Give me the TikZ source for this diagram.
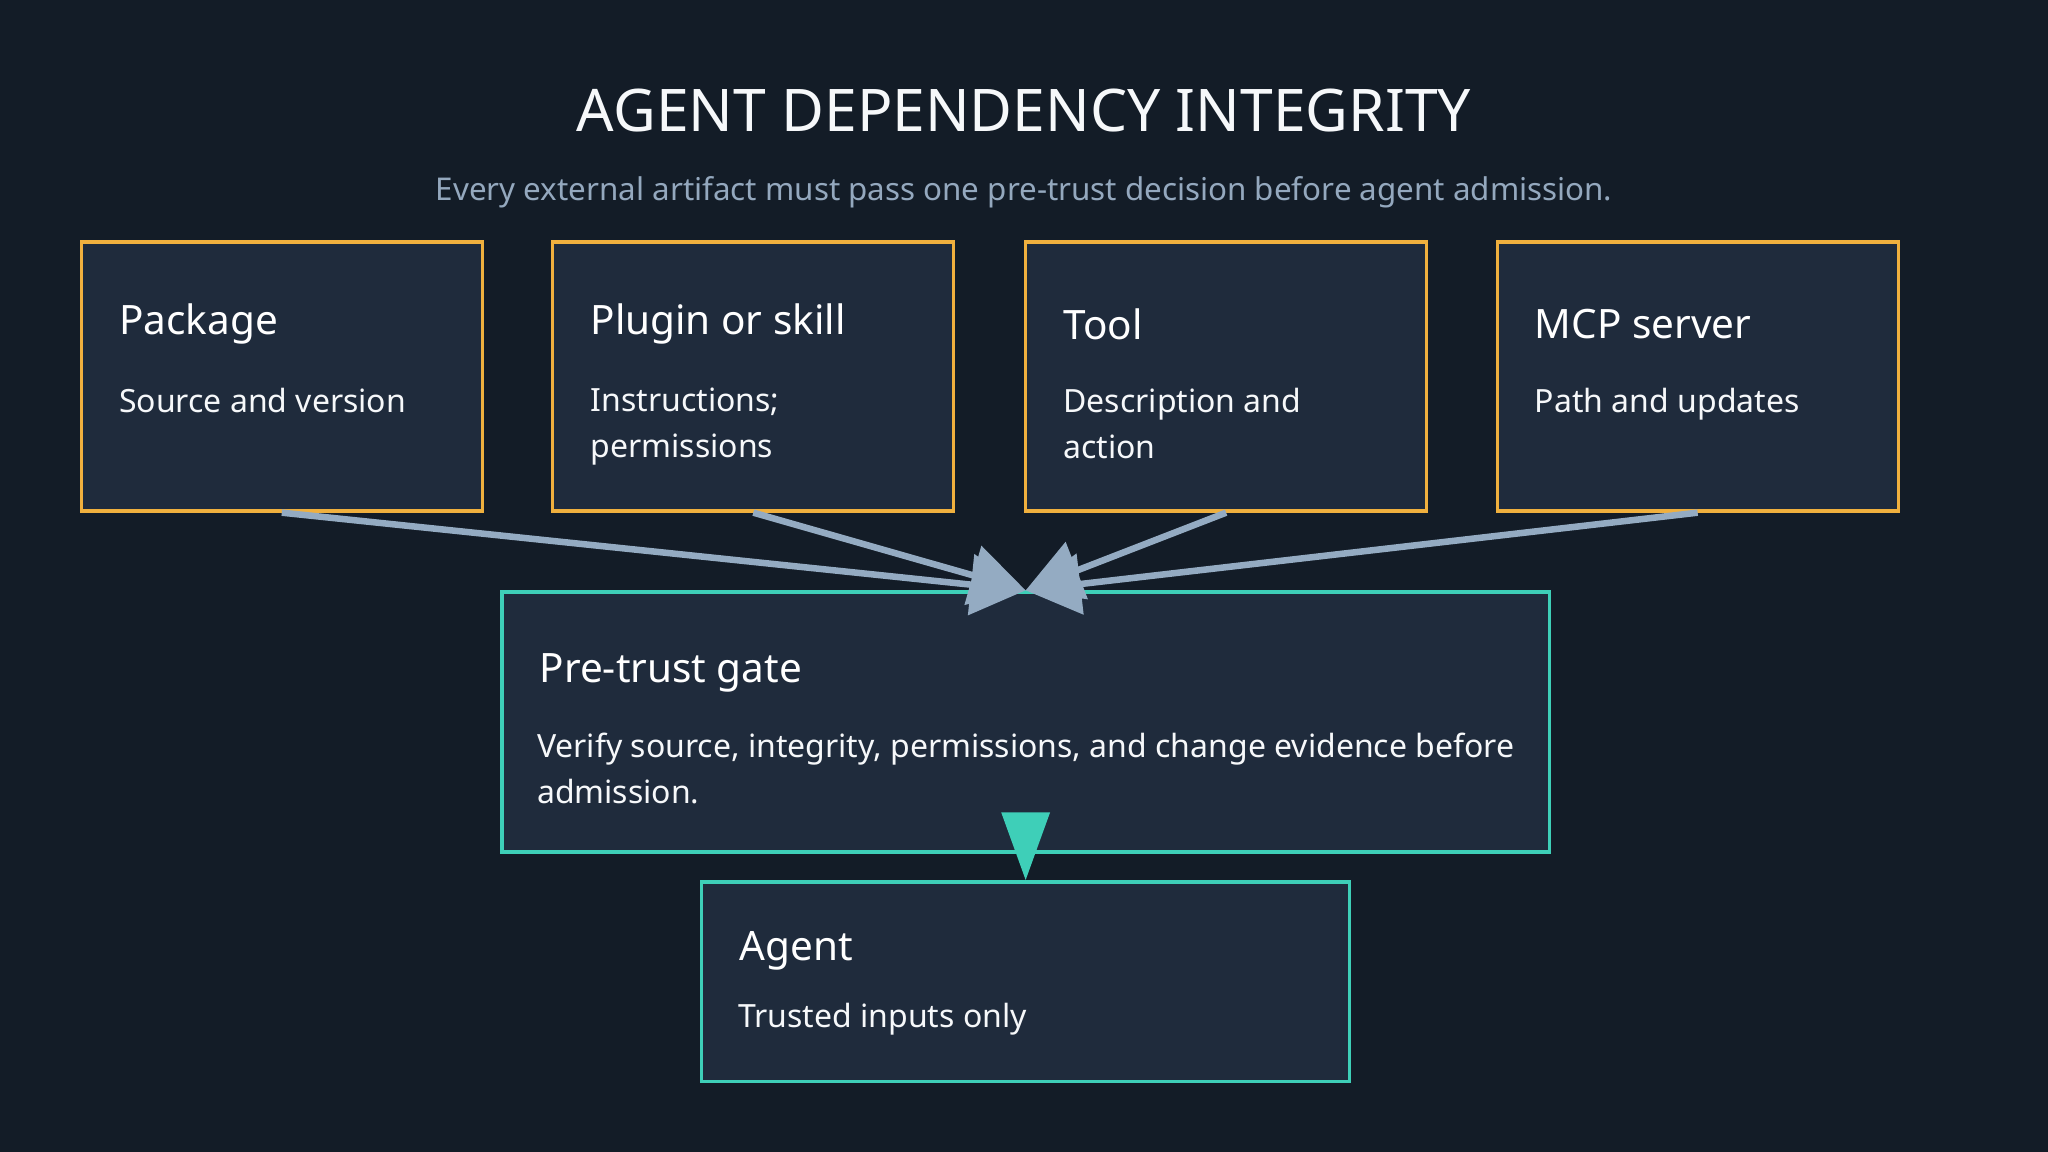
\documentclass[tikz,border=0pt]{standalone}
\usepackage{fontspec}
\setmainfont{Noto Sans}
\usetikzlibrary{arrows.meta}
\definecolor{bg}{HTML}{131C27}
\definecolor{boxf}{HTML}{1F2B3C}
\definecolor{org}{HTML}{F0B03E}
\definecolor{teal}{HTML}{3ECFB8}
\definecolor{arr}{HTML}{94ABC2}
\definecolor{sub}{HTML}{94A8BE}
\begin{document}
\begin{tikzpicture}[x=1pt,y=-1pt,
  src/.style={draw=org,line width=2.5pt,fill=boxf,minimum width=307pt,minimum height=206pt,anchor=north west,inner sep=0},
  gate/.style={draw=teal,line width=2.5pt,fill=boxf,anchor=north west,inner sep=0},
  ttl/.style={anchor=west,text=white,font=\fontsize{31}{36}\selectfont\bfseries,inner sep=0},
  body/.style={anchor=north west,text=white!92!sub,font=\fontsize{24.5}{35}\selectfont,align=left,inner sep=0},
  garr/.style={draw=arr,line width=5pt,-{Triangle[length=42pt,width=46pt]}},
  tarr/.style={draw=teal,line width=5pt,-{Triangle[length=52pt,width=36pt]}}]
\fill[bg] (0,0) rectangle (1568,882);
\node[text=white!92!sub,font=\fontsize{45}{50}\selectfont\bfseries] (t) at (784,85) {AGENT DEPENDENCY INTEGRITY};
\node[text=sub,font=\fontsize{24}{28}\selectfont] (s) at (784,147) {Every external artifact must pass one pre-trust decision before agent admission.};
\node[src] (p1) at (61,184) {};
\node[src] (p2) at (422,184) {};
\node[src] (p3) at (784,184) {};
\node[src] (p4) at (1145,184) {};
\node[gate,minimum width=802pt,minimum height=199pt] (g) at (383,452) {};
\node[gate,minimum width=496pt,minimum height=153pt] (a) at (536,674) {};
\node[ttl] at (91,248) {Package};
\node[body] at (91,297) {Source and version};
\node[ttl] at (452,248) {Plugin or skill};
\node[body] at (452,297) {Instructions;\\permissions};
\node[ttl] at (814,248) {Tool};
\node[body] at (814,297) {Description and\\action};
\node[ttl] at (1175,248) {MCP server};
\node[body] at (1175,297) {Path and updates};
\node[ttl] at (413,515) {Pre-trust gate};
\node[body] at (411,561) {Verify source, integrity, permissions, and change evidence before\\admission.};
\node[ttl] at (566,728) {Agent};
\node[body] at (565,768) {Trusted inputs only};
\draw[garr] (p1.south) -- (g.north);
\draw[garr] (p2.south) -- (g.north);
\draw[garr] (p3.south) -- (g.north);
\draw[garr] (p4.south) -- (g.north);
\draw[tarr] (g.south) -- (a.north);
\end{tikzpicture}
\end{document}
